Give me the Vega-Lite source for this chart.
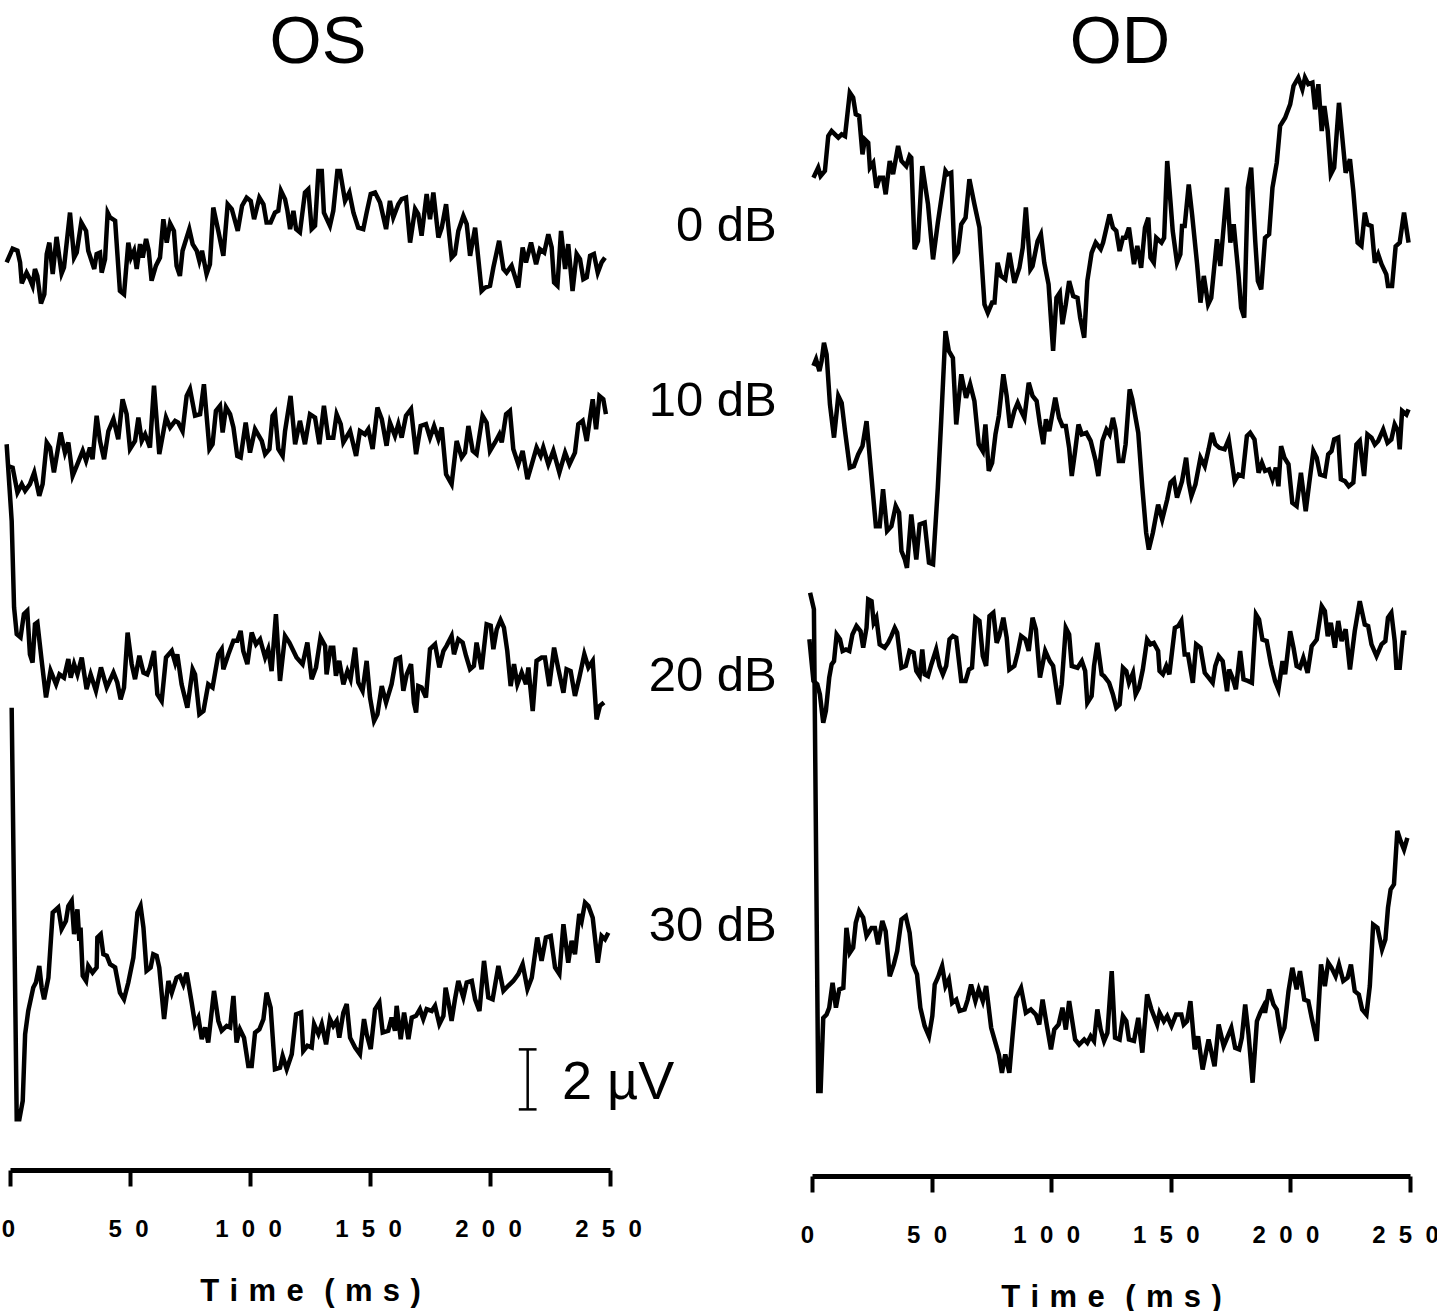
{
"$schema":"https://vega.github.io/schema/vega-lite/v6.json",
"background":"white",
"padding":{"left":-3,"top":9,"right":0,"bottom":0},
"bounds":"flush",
"spacing":202,
"config":{
 "view":{"stroke":null},
 "font":"Liberation Sans",
 "axis":{"grid":false,"domainColor":"black","domainWidth":5,"tickColor":"black","tickWidth":4,"tickSize":16,"labelFont":"Liberation Sans","labelFontWeight":"bold","labelFontSize":24,"labelColor":"black","labelPadding":31,"labelFlush":false,"labelOverlap":false,"titleFont":"Liberation Sans","titleFontWeight":"bold","titleFontSize":31,"titleColor":"black","titlePadding":35},
 "title":{"font":"Liberation Sans","fontSize":67,"fontWeight":"normal","color":"black","anchor":"middle","offset":-15}
},
"datasets":{
"os":[
{"dB":0,"ms":-1.4,"uV":30.25},{"dB":0,"ms":1.1,"uV":30.71},{"dB":0,"ms":3.1,"uV":30.64},{"dB":0,"ms":4.2,"uV":30.25},{"dB":0,"ms":4.9,"uV":29.55},{"dB":0,"ms":6.9,"uV":29.91},{"dB":0,"ms":8.3,"uV":29.69},{"dB":0,"ms":9.4,"uV":29.47},{"dB":0,"ms":10.4,"uV":30.03},{"dB":0,"ms":11.4,"uV":29.8},{"dB":0,"ms":12.9,"uV":28.88},{"dB":0,"ms":14.3,"uV":29.19},{"dB":0,"ms":15.3,"uV":30.53},{"dB":0,"ms":16.4,"uV":30.91},{"dB":0,"ms":17.8,"uV":29.86},{"dB":0,"ms":19.4,"uV":31.1},{"dB":0,"ms":21.5,"uV":29.88},{"dB":0,"ms":22.5,"uV":30.08},{"dB":0,"ms":25.0,"uV":31.91},{"dB":0,"ms":26.7,"uV":30.41},{"dB":0,"ms":27.8,"uV":30.58},{"dB":0,"ms":29.7,"uV":31.58},{"dB":0,"ms":31.7,"uV":31.3},{"dB":0,"ms":32.6,"uV":30.64},{"dB":0,"ms":35.1,"uV":30.03},{"dB":0,"ms":36.1,"uV":30.53},{"dB":0,"ms":37.5,"uV":30.58},{"dB":0,"ms":38.2,"uV":29.91},{"dB":0,"ms":39.6,"uV":30.36},{"dB":0,"ms":40.7,"uV":31.91},{"dB":0,"ms":41.7,"uV":31.75},{"dB":0,"ms":43.8,"uV":31.64},{"dB":0,"ms":45.8,"uV":29.3},{"dB":0,"ms":47.5,"uV":29.19},{"dB":0,"ms":49.3,"uV":30.91},{"dB":0,"ms":50.4,"uV":30.41},{"dB":0,"ms":51.7,"uV":30.64},{"dB":0,"ms":52.8,"uV":30.03},{"dB":0,"ms":54.2,"uV":30.86},{"dB":0,"ms":55.3,"uV":30.41},{"dB":0,"ms":56.7,"uV":31.03},{"dB":0,"ms":57.8,"uV":30.64},{"dB":0,"ms":59.0,"uV":29.64},{"dB":0,"ms":60.8,"uV":30.14},{"dB":0,"ms":62.5,"uV":30.41},{"dB":0,"ms":63.9,"uV":31.69},{"dB":0,"ms":65.3,"uV":30.91},{"dB":0,"ms":66.7,"uV":31.55},{"dB":0,"ms":68.3,"uV":31.3},{"dB":0,"ms":69.4,"uV":30.14},{"dB":0,"ms":70.8,"uV":29.8},{"dB":0,"ms":71.9,"uV":30.64},{"dB":0,"ms":74.7,"uV":31.36},{"dB":0,"ms":76.1,"uV":30.86},{"dB":0,"ms":77.8,"uV":30.64},{"dB":0,"ms":78.9,"uV":30.3},{"dB":0,"ms":80.0,"uV":30.64},{"dB":0,"ms":81.9,"uV":29.86},{"dB":0,"ms":83.3,"uV":30.19},{"dB":0,"ms":84.7,"uV":32.08},{"dB":0,"ms":86.8,"uV":31.3},{"dB":0,"ms":88.9,"uV":30.47},{"dB":0,"ms":90.7,"uV":32.19},{"dB":0,"ms":92.4,"uV":32.03},{"dB":0,"ms":94.9,"uV":31.3},{"dB":0,"ms":96.7,"uV":32.14},{"dB":0,"ms":98.6,"uV":32.41},{"dB":0,"ms":100.3,"uV":32.3},{"dB":0,"ms":101.7,"uV":31.69},{"dB":0,"ms":103.9,"uV":32.41},{"dB":0,"ms":105.6,"uV":32.19},{"dB":0,"ms":106.9,"uV":31.58},{"dB":0,"ms":108.6,"uV":31.58},{"dB":0,"ms":110.4,"uV":31.91},{"dB":0,"ms":111.8,"uV":31.97},{"dB":0,"ms":112.9,"uV":32.64},{"dB":0,"ms":114.6,"uV":32.36},{"dB":0,"ms":115.6,"uV":31.97},{"dB":0,"ms":116.7,"uV":31.36},{"dB":0,"ms":118.1,"uV":31.97},{"dB":0,"ms":119.2,"uV":31.36},{"dB":0,"ms":120.8,"uV":31.25},{"dB":0,"ms":122.9,"uV":32.58},{"dB":0,"ms":124.3,"uV":32.69},{"dB":0,"ms":125.7,"uV":31.36},{"dB":0,"ms":127.1,"uV":31.47},{"dB":0,"ms":128.5,"uV":33.3},{"dB":0,"ms":129.9,"uV":33.3},{"dB":0,"ms":130.8,"uV":31.91},{"dB":0,"ms":133.3,"uV":31.47},{"dB":0,"ms":134.7,"uV":31.97},{"dB":0,"ms":136.4,"uV":33.3},{"dB":0,"ms":137.5,"uV":33.3},{"dB":0,"ms":139.6,"uV":32.3},{"dB":0,"ms":141.4,"uV":32.58},{"dB":0,"ms":143.1,"uV":31.91},{"dB":0,"ms":145.1,"uV":31.41},{"dB":0,"ms":147.2,"uV":31.36},{"dB":0,"ms":148.6,"uV":31.91},{"dB":0,"ms":150.3,"uV":32.53},{"dB":0,"ms":152.1,"uV":32.58},{"dB":0,"ms":154.2,"uV":32.25},{"dB":0,"ms":156.7,"uV":31.36},{"dB":0,"ms":158.3,"uV":32.3},{"dB":0,"ms":159.7,"uV":31.75},{"dB":0,"ms":161.8,"uV":32.19},{"dB":0,"ms":163.2,"uV":32.36},{"dB":0,"ms":165.0,"uV":32.41},{"dB":0,"ms":166.7,"uV":30.91},{"dB":0,"ms":168.8,"uV":32.03},{"dB":0,"ms":170.1,"uV":31.86},{"dB":0,"ms":171.5,"uV":31.14},{"dB":0,"ms":173.6,"uV":32.53},{"dB":0,"ms":175.0,"uV":31.69},{"dB":0,"ms":176.4,"uV":32.58},{"dB":0,"ms":178.5,"uV":31.08},{"dB":0,"ms":179.9,"uV":31.41},{"dB":0,"ms":181.7,"uV":32.19},{"dB":0,"ms":184.0,"uV":30.41},{"dB":0,"ms":185.4,"uV":30.53},{"dB":0,"ms":186.8,"uV":31.3},{"dB":0,"ms":188.9,"uV":31.8},{"dB":0,"ms":190.3,"uV":31.53},{"dB":0,"ms":191.7,"uV":30.47},{"dB":0,"ms":193.8,"uV":31.41},{"dB":0,"ms":196.5,"uV":29.3},{"dB":0,"ms":197.9,"uV":29.41},{"dB":0,"ms":200.0,"uV":29.47},{"dB":0,"ms":201.4,"uV":30.08},{"dB":0,"ms":203.8,"uV":30.97},{"dB":0,"ms":205.6,"uV":30.03},{"dB":0,"ms":206.9,"uV":29.91},{"dB":0,"ms":209.0,"uV":30.14},{"dB":0,"ms":211.8,"uV":29.41},{"dB":0,"ms":213.6,"uV":30.75},{"dB":0,"ms":215.0,"uV":30.25},{"dB":0,"ms":217.1,"uV":30.91},{"dB":0,"ms":219.2,"uV":30.19},{"dB":0,"ms":220.8,"uV":30.69},{"dB":0,"ms":222.6,"uV":30.58},{"dB":0,"ms":224.3,"uV":31.19},{"dB":0,"ms":225.7,"uV":30.75},{"dB":0,"ms":226.7,"uV":29.58},{"dB":0,"ms":228.1,"uV":29.47},{"dB":0,"ms":229.6,"uV":31.3},{"dB":0,"ms":231.3,"uV":30.03},{"dB":0,"ms":232.6,"uV":30.86},{"dB":0,"ms":234.4,"uV":29.3},{"dB":0,"ms":236.1,"uV":30.53},{"dB":0,"ms":237.5,"uV":30.36},{"dB":0,"ms":238.9,"uV":29.69},{"dB":0,"ms":240.3,"uV":29.75},{"dB":0,"ms":241.7,"uV":30.47},{"dB":0,"ms":243.3,"uV":30.53},{"dB":0,"ms":244.9,"uV":29.91},{"dB":0,"ms":246.5,"uV":30.25},{"dB":0,"ms":247.9,"uV":30.41},
{"dB":10,"ms":-1.1,"uV":23.47},{"dB":10,"ms":1.1,"uV":23.41},{"dB":10,"ms":3.1,"uV":22.58},{"dB":10,"ms":4.9,"uV":22.86},{"dB":10,"ms":6.3,"uV":22.64},{"dB":10,"ms":8.3,"uV":22.86},{"dB":10,"ms":10.1,"uV":23.25},{"dB":10,"ms":12.2,"uV":22.47},{"dB":10,"ms":13.6,"uV":22.86},{"dB":10,"ms":15.3,"uV":24.25},{"dB":10,"ms":16.7,"uV":24.08},{"dB":10,"ms":18.3,"uV":23.25},{"dB":10,"ms":21.1,"uV":24.58},{"dB":10,"ms":22.9,"uV":23.91},{"dB":10,"ms":24.3,"uV":24.25},{"dB":10,"ms":26.1,"uV":23.14},{"dB":10,"ms":27.8,"uV":23.47},{"dB":10,"ms":30.3,"uV":23.97},{"dB":10,"ms":31.7,"uV":23.64},{"dB":10,"ms":33.3,"uV":24.08},{"dB":10,"ms":34.4,"uV":23.69},{"dB":10,"ms":36.1,"uV":25.14},{"dB":10,"ms":37.5,"uV":24.3},{"dB":10,"ms":39.2,"uV":23.69},{"dB":10,"ms":41.0,"uV":24.63},{"dB":10,"ms":43.1,"uV":25.03},{"dB":10,"ms":45.1,"uV":24.36},{"dB":10,"ms":46.9,"uV":25.69},{"dB":10,"ms":48.6,"uV":25.19},{"dB":10,"ms":50.0,"uV":24.03},{"dB":10,"ms":52.1,"uV":24.3},{"dB":10,"ms":53.5,"uV":25.08},{"dB":10,"ms":54.9,"uV":24.3},{"dB":10,"ms":56.3,"uV":24.52},{"dB":10,"ms":58.3,"uV":24.08},{"dB":10,"ms":60.0,"uV":26.14},{"dB":10,"ms":62.2,"uV":23.86},{"dB":10,"ms":65.0,"uV":25.08},{"dB":10,"ms":66.7,"uV":24.75},{"dB":10,"ms":68.8,"uV":24.97},{"dB":10,"ms":70.1,"uV":24.91},{"dB":10,"ms":71.9,"uV":24.63},{"dB":10,"ms":73.6,"uV":25.8},{"dB":10,"ms":75.0,"uV":26.03},{"dB":10,"ms":77.1,"uV":25.14},{"dB":10,"ms":79.2,"uV":25.19},{"dB":10,"ms":80.8,"uV":26.19},{"dB":10,"ms":83.1,"uV":24.03},{"dB":10,"ms":84.4,"uV":24.19},{"dB":10,"ms":85.8,"uV":25.3},{"dB":10,"ms":87.5,"uV":25.47},{"dB":10,"ms":88.6,"uV":24.58},{"dB":10,"ms":90.0,"uV":25.42},{"dB":10,"ms":91.7,"uV":25.19},{"dB":10,"ms":93.1,"uV":24.75},{"dB":10,"ms":94.7,"uV":23.8},{"dB":10,"ms":96.1,"uV":23.75},{"dB":10,"ms":98.2,"uV":24.91},{"dB":10,"ms":100.0,"uV":23.91},{"dB":10,"ms":102.1,"uV":24.69},{"dB":10,"ms":104.9,"uV":24.3},{"dB":10,"ms":106.3,"uV":23.86},{"dB":10,"ms":108.1,"uV":24.03},{"dB":10,"ms":109.4,"uV":25.14},{"dB":10,"ms":110.4,"uV":25.25},{"dB":10,"ms":111.8,"uV":24.03},{"dB":10,"ms":113.6,"uV":23.8},{"dB":10,"ms":114.6,"uV":24.63},{"dB":10,"ms":116.9,"uV":25.8},{"dB":10,"ms":118.8,"uV":24.19},{"dB":10,"ms":120.8,"uV":24.97},{"dB":10,"ms":122.9,"uV":24.19},{"dB":10,"ms":125.0,"uV":25.19},{"dB":10,"ms":127.1,"uV":25.08},{"dB":10,"ms":128.9,"uV":24.19},{"dB":10,"ms":130.8,"uV":25.47},{"dB":10,"ms":132.6,"uV":24.41},{"dB":10,"ms":134.7,"uV":24.41},{"dB":10,"ms":136.1,"uV":25.19},{"dB":10,"ms":137.8,"uV":24.86},{"dB":10,"ms":138.9,"uV":24.25},{"dB":10,"ms":141.7,"uV":24.63},{"dB":10,"ms":144.2,"uV":23.8},{"dB":10,"ms":145.8,"uV":24.63},{"dB":10,"ms":147.9,"uV":24.52},{"dB":10,"ms":149.3,"uV":24.69},{"dB":10,"ms":151.1,"uV":24.03},{"dB":10,"ms":153.1,"uV":25.41},{"dB":10,"ms":154.9,"uV":25.03},{"dB":10,"ms":156.9,"uV":24.14},{"dB":10,"ms":158.3,"uV":24.91},{"dB":10,"ms":160.4,"uV":24.47},{"dB":10,"ms":161.8,"uV":24.86},{"dB":10,"ms":163.2,"uV":24.41},{"dB":10,"ms":165.0,"uV":25.14},{"dB":10,"ms":167.1,"uV":25.36},{"dB":10,"ms":169.2,"uV":23.86},{"dB":10,"ms":171.1,"uV":24.8},{"dB":10,"ms":173.3,"uV":24.86},{"dB":10,"ms":175.0,"uV":24.41},{"dB":10,"ms":176.7,"uV":24.8},{"dB":10,"ms":178.5,"uV":24.36},{"dB":10,"ms":179.9,"uV":24.75},{"dB":10,"ms":181.7,"uV":23.19},{"dB":10,"ms":184.0,"uV":22.86},{"dB":10,"ms":186.1,"uV":24.3},{"dB":10,"ms":188.2,"uV":23.75},{"dB":10,"ms":189.6,"uV":23.91},{"dB":10,"ms":191.0,"uV":24.8},{"dB":10,"ms":192.8,"uV":23.97},{"dB":10,"ms":194.4,"uV":23.86},{"dB":10,"ms":196.9,"uV":25.14},{"dB":10,"ms":198.6,"uV":24.91},{"dB":10,"ms":200.0,"uV":23.97},{"dB":10,"ms":202.1,"uV":24.25},{"dB":10,"ms":203.9,"uV":24.52},{"dB":10,"ms":204.9,"uV":24.25},{"dB":10,"ms":206.7,"uV":25.19},{"dB":10,"ms":208.3,"uV":25.3},{"dB":10,"ms":209.7,"uV":24.03},{"dB":10,"ms":211.8,"uV":23.52},{"dB":10,"ms":213.6,"uV":23.97},{"dB":10,"ms":215.6,"uV":23.03},{"dB":10,"ms":217.4,"uV":23.52},{"dB":10,"ms":219.4,"uV":24.08},{"dB":10,"ms":221.1,"uV":23.8},{"dB":10,"ms":222.2,"uV":24.08},{"dB":10,"ms":224.3,"uV":23.52},{"dB":10,"ms":226.4,"uV":23.97},{"dB":10,"ms":228.9,"uV":23.25},{"dB":10,"ms":231.3,"uV":23.91},{"dB":10,"ms":233.1,"uV":23.52},{"dB":10,"ms":235.4,"uV":23.91},{"dB":10,"ms":236.8,"uV":24.86},{"dB":10,"ms":238.6,"uV":24.97},{"dB":10,"ms":240.3,"uV":24.3},{"dB":10,"ms":241.7,"uV":25.08},{"dB":10,"ms":242.8,"uV":25.69},{"dB":10,"ms":244.2,"uV":24.69},{"dB":10,"ms":245.6,"uV":25.8},{"dB":10,"ms":247.2,"uV":25.69},{"dB":10,"ms":248.3,"uV":25.19},
{"dB":20,"ms":-1.4,"uV":24.19},{"dB":20,"ms":0.7,"uV":21.64},{"dB":20,"ms":1.7,"uV":18.75},{"dB":20,"ms":2.8,"uV":17.86},{"dB":20,"ms":4.4,"uV":17.75},{"dB":20,"ms":5.8,"uV":18.53},{"dB":20,"ms":7.2,"uV":18.64},{"dB":20,"ms":8.3,"uV":17.19},{"dB":20,"ms":9.4,"uV":16.91},{"dB":20,"ms":10.4,"uV":18.19},{"dB":20,"ms":11.4,"uV":18.25},{"dB":20,"ms":13.2,"uV":16.97},{"dB":20,"ms":15.0,"uV":15.75},{"dB":20,"ms":16.9,"uV":16.64},{"dB":20,"ms":19.2,"uV":16.19},{"dB":20,"ms":20.6,"uV":16.52},{"dB":20,"ms":22.5,"uV":16.41},{"dB":20,"ms":24.3,"uV":17.03},{"dB":20,"ms":25.3,"uV":16.41},{"dB":20,"ms":26.7,"uV":16.86},{"dB":20,"ms":28.1,"uV":16.52},{"dB":20,"ms":29.9,"uV":17.08},{"dB":20,"ms":31.9,"uV":16.03},{"dB":20,"ms":33.6,"uV":16.52},{"dB":20,"ms":35.8,"uV":15.97},{"dB":20,"ms":37.9,"uV":16.75},{"dB":20,"ms":40.3,"uV":16.08},{"dB":20,"ms":43.1,"uV":16.58},{"dB":20,"ms":44.7,"uV":16.25},{"dB":20,"ms":46.1,"uV":15.69},{"dB":20,"ms":47.5,"uV":16.08},{"dB":20,"ms":49.0,"uV":17.91},{"dB":20,"ms":50.7,"uV":16.86},{"dB":20,"ms":52.1,"uV":16.36},{"dB":20,"ms":53.9,"uV":17.14},{"dB":20,"ms":55.6,"uV":16.58},{"dB":20,"ms":57.2,"uV":16.52},{"dB":20,"ms":58.3,"uV":16.75},{"dB":20,"ms":60.0,"uV":17.3},{"dB":20,"ms":61.4,"uV":15.86},{"dB":20,"ms":63.2,"uV":15.63},{"dB":20,"ms":65.0,"uV":17.08},{"dB":20,"ms":67.4,"uV":17.3},{"dB":20,"ms":68.8,"uV":16.91},{"dB":20,"ms":69.7,"uV":17.19},{"dB":20,"ms":71.5,"uV":16.19},{"dB":20,"ms":73.9,"uV":15.41},{"dB":20,"ms":76.1,"uV":16.69},{"dB":20,"ms":77.1,"uV":16.52},{"dB":20,"ms":78.9,"uV":15.19},{"dB":20,"ms":80.6,"uV":15.3},{"dB":20,"ms":82.6,"uV":16.19},{"dB":20,"ms":84.4,"uV":16.08},{"dB":20,"ms":86.8,"uV":17.19},{"dB":20,"ms":88.2,"uV":17.36},{"dB":20,"ms":88.9,"uV":16.69},{"dB":20,"ms":91.0,"uV":17.19},{"dB":20,"ms":93.1,"uV":17.64},{"dB":20,"ms":94.7,"uV":17.64},{"dB":20,"ms":96.1,"uV":17.97},{"dB":20,"ms":97.2,"uV":17.3},{"dB":20,"ms":98.9,"uV":16.86},{"dB":20,"ms":100.7,"uV":17.91},{"dB":20,"ms":102.5,"uV":17.52},{"dB":20,"ms":104.2,"uV":17.69},{"dB":20,"ms":106.3,"uV":17.08},{"dB":20,"ms":107.6,"uV":17.36},{"dB":20,"ms":109.0,"uV":16.63},{"dB":20,"ms":110.8,"uV":18.53},{"dB":20,"ms":112.5,"uV":16.3},{"dB":20,"ms":114.6,"uV":17.8},{"dB":20,"ms":116.4,"uV":17.58},{"dB":20,"ms":118.1,"uV":17.3},{"dB":20,"ms":119.4,"uV":17.08},{"dB":20,"ms":121.9,"uV":16.86},{"dB":20,"ms":123.9,"uV":17.58},{"dB":20,"ms":125.7,"uV":16.36},{"dB":20,"ms":127.5,"uV":16.75},{"dB":20,"ms":129.4,"uV":17.75},{"dB":20,"ms":131.3,"uV":17.47},{"dB":20,"ms":131.9,"uV":16.52},{"dB":20,"ms":133.6,"uV":17.41},{"dB":20,"ms":134.7,"uV":17.41},{"dB":20,"ms":135.8,"uV":16.47},{"dB":20,"ms":137.2,"uV":16.97},{"dB":20,"ms":138.9,"uV":16.19},{"dB":20,"ms":140.6,"uV":16.63},{"dB":20,"ms":141.9,"uV":16.36},{"dB":20,"ms":143.8,"uV":17.41},{"dB":20,"ms":145.1,"uV":16.25},{"dB":20,"ms":146.9,"uV":15.97},{"dB":20,"ms":148.6,"uV":16.97},{"dB":20,"ms":150.0,"uV":15.75},{"dB":20,"ms":151.7,"uV":14.97},{"dB":20,"ms":153.1,"uV":15.19},{"dB":20,"ms":154.9,"uV":16.13},{"dB":20,"ms":156.7,"uV":15.58},{"dB":20,"ms":159.0,"uV":16.19},{"dB":20,"ms":160.8,"uV":17.02},{"dB":20,"ms":162.5,"uV":17.08},{"dB":20,"ms":163.9,"uV":15.97},{"dB":20,"ms":165.3,"uV":16.52},{"dB":20,"ms":167.1,"uV":16.86},{"dB":20,"ms":168.3,"uV":15.58},{"dB":20,"ms":169.2,"uV":15.25},{"dB":20,"ms":170.1,"uV":16.13},{"dB":20,"ms":171.5,"uV":16.08},{"dB":20,"ms":173.3,"uV":15.75},{"dB":20,"ms":175.0,"uV":17.36},{"dB":20,"ms":177.1,"uV":17.52},{"dB":20,"ms":178.9,"uV":16.75},{"dB":20,"ms":180.6,"uV":17.3},{"dB":20,"ms":181.9,"uV":17.47},{"dB":20,"ms":184.0,"uV":17.8},{"dB":20,"ms":185.0,"uV":17.19},{"dB":20,"ms":186.8,"uV":17.69},{"dB":20,"ms":188.6,"uV":17.58},{"dB":20,"ms":190.0,"uV":17.14},{"dB":20,"ms":191.7,"uV":16.69},{"dB":20,"ms":193.3,"uV":16.8},{"dB":20,"ms":194.4,"uV":17.58},{"dB":20,"ms":196.5,"uV":16.69},{"dB":20,"ms":198.6,"uV":18.19},{"dB":20,"ms":200.3,"uV":18.14},{"dB":20,"ms":201.4,"uV":17.36},{"dB":20,"ms":202.8,"uV":18.02},{"dB":20,"ms":204.4,"uV":18.33},{"dB":20,"ms":205.8,"uV":18.08},{"dB":20,"ms":207.2,"uV":17.3},{"dB":20,"ms":208.6,"uV":16.13},{"dB":20,"ms":210.0,"uV":16.86},{"dB":20,"ms":211.4,"uV":16.19},{"dB":20,"ms":213.2,"uV":16.58},{"dB":20,"ms":215.0,"uV":16.19},{"dB":20,"ms":216.0,"uV":16.75},{"dB":20,"ms":217.8,"uV":15.3},{"dB":20,"ms":219.4,"uV":16.97},{"dB":20,"ms":221.5,"uV":17.08},{"dB":20,"ms":222.9,"uV":17.08},{"dB":20,"ms":224.7,"uV":16.13},{"dB":20,"ms":226.7,"uV":17.41},{"dB":20,"ms":228.5,"uV":16.69},{"dB":20,"ms":230.6,"uV":15.91},{"dB":20,"ms":231.9,"uV":16.69},{"dB":20,"ms":233.6,"uV":16.63},{"dB":20,"ms":235.4,"uV":15.8},{"dB":20,"ms":237.2,"uV":16.41},{"dB":20,"ms":239.3,"uV":17.19},{"dB":20,"ms":241.0,"uV":16.75},{"dB":20,"ms":242.8,"uV":16.97},{"dB":20,"ms":244.4,"uV":15.02},{"dB":20,"ms":245.8,"uV":15.47},{"dB":20,"ms":247.5,"uV":15.58},
{"dB":30,"ms":0.7,"uV":15.41},{"dB":30,"ms":2.8,"uV":1.69},{"dB":30,"ms":3.9,"uV":1.69},{"dB":30,"ms":5.3,"uV":2.3},{"dB":30,"ms":6.3,"uV":4.53},{"dB":30,"ms":7.6,"uV":5.3},{"dB":30,"ms":9.7,"uV":6.08},{"dB":30,"ms":10.8,"uV":6.25},{"dB":30,"ms":12.2,"uV":6.8},{"dB":30,"ms":13.2,"uV":6.08},{"dB":30,"ms":14.2,"uV":5.69},{"dB":30,"ms":16.0,"uV":6.41},{"dB":30,"ms":17.8,"uV":8.58},{"dB":30,"ms":20.1,"uV":8.75},{"dB":30,"ms":21.5,"uV":8.03},{"dB":30,"ms":23.3,"uV":8.3},{"dB":30,"ms":24.3,"uV":8.8},{"dB":30,"ms":25.7,"uV":8.97},{"dB":30,"ms":26.7,"uV":7.86},{"dB":30,"ms":28.1,"uV":8.69},{"dB":30,"ms":28.9,"uV":7.64},{"dB":30,"ms":29.4,"uV":8.08},{"dB":30,"ms":30.3,"uV":6.47},{"dB":30,"ms":31.7,"uV":6.3},{"dB":30,"ms":32.6,"uV":6.8},{"dB":30,"ms":34.4,"uV":6.58},{"dB":30,"ms":36.1,"uV":6.75},{"dB":30,"ms":36.4,"uV":7.75},{"dB":30,"ms":37.8,"uV":7.86},{"dB":30,"ms":38.9,"uV":7.19},{"dB":30,"ms":40.3,"uV":7.14},{"dB":30,"ms":41.7,"uV":6.86},{"dB":30,"ms":43.8,"uV":6.75},{"dB":30,"ms":45.8,"uV":5.91},{"dB":30,"ms":47.5,"uV":5.69},{"dB":30,"ms":49.3,"uV":6.25},{"dB":30,"ms":51.4,"uV":7.08},{"dB":30,"ms":53.1,"uV":8.58},{"dB":30,"ms":54.4,"uV":8.8},{"dB":30,"ms":55.6,"uV":8.08},{"dB":30,"ms":56.9,"uV":6.64},{"dB":30,"ms":58.6,"uV":6.75},{"dB":30,"ms":59.7,"uV":7.19},{"dB":30,"ms":61.1,"uV":7.14},{"dB":30,"ms":62.2,"uV":6.75},{"dB":30,"ms":64.2,"uV":5.03},{"dB":30,"ms":66.0,"uV":6.3},{"dB":30,"ms":67.4,"uV":5.91},{"dB":30,"ms":69.4,"uV":6.41},{"dB":30,"ms":70.8,"uV":6.47},{"dB":30,"ms":72.2,"uV":6.19},{"dB":30,"ms":73.6,"uV":6.58},{"dB":30,"ms":75.7,"uV":5.58},{"dB":30,"ms":77.1,"uV":4.86},{"dB":30,"ms":78.5,"uV":5.08},{"dB":30,"ms":79.9,"uV":4.36},{"dB":30,"ms":81.3,"uV":4.75},{"dB":30,"ms":82.6,"uV":4.25},{"dB":30,"ms":85.0,"uV":5.97},{"dB":30,"ms":86.8,"uV":4.97},{"dB":30,"ms":88.2,"uV":4.64},{"dB":30,"ms":90.3,"uV":4.8},{"dB":30,"ms":91.7,"uV":4.75},{"dB":30,"ms":93.1,"uV":5.8},{"dB":30,"ms":94.4,"uV":4.25},{"dB":30,"ms":95.8,"uV":4.69},{"dB":30,"ms":97.5,"uV":4.41},{"dB":30,"ms":99.3,"uV":3.47},{"dB":30,"ms":100.7,"uV":3.47},{"dB":30,"ms":102.1,"uV":4.58},{"dB":30,"ms":103.9,"uV":4.69},{"dB":30,"ms":105.6,"uV":5.03},{"dB":30,"ms":106.9,"uV":5.91},{"dB":30,"ms":108.6,"uV":5.41},{"dB":30,"ms":110.4,"uV":3.36},{"dB":30,"ms":112.5,"uV":3.41},{"dB":30,"ms":113.6,"uV":3.8},{"dB":30,"ms":115.3,"uV":3.36},{"dB":30,"ms":117.4,"uV":3.86},{"dB":30,"ms":119.2,"uV":5.19},{"dB":30,"ms":121.3,"uV":5.25},{"dB":30,"ms":122.2,"uV":3.97},{"dB":30,"ms":123.9,"uV":4.14},{"dB":30,"ms":125.7,"uV":4.08},{"dB":30,"ms":126.7,"uV":4.86},{"dB":30,"ms":128.5,"uV":4.53},{"dB":30,"ms":129.9,"uV":4.86},{"dB":30,"ms":131.7,"uV":4.19},{"dB":30,"ms":133.3,"uV":5.03},{"dB":30,"ms":134.7,"uV":4.8},{"dB":30,"ms":136.1,"uV":4.97},{"dB":30,"ms":137.2,"uV":4.41},{"dB":30,"ms":138.9,"uV":5.25},{"dB":30,"ms":140.3,"uV":5.53},{"dB":30,"ms":141.7,"uV":4.41},{"dB":30,"ms":143.8,"uV":4.08},{"dB":30,"ms":145.8,"uV":3.86},{"dB":30,"ms":147.5,"uV":5.03},{"dB":30,"ms":148.6,"uV":4.53},{"dB":30,"ms":150.3,"uV":4.03},{"dB":30,"ms":152.1,"uV":5.36},{"dB":30,"ms":153.9,"uV":5.58},{"dB":30,"ms":155.3,"uV":4.58},{"dB":30,"ms":157.6,"uV":4.64},{"dB":30,"ms":159.0,"uV":5.08},{"dB":30,"ms":160.4,"uV":4.64},{"dB":30,"ms":161.1,"uV":5.47},{"dB":30,"ms":162.8,"uV":4.36},{"dB":30,"ms":164.2,"uV":5.25},{"dB":30,"ms":166.0,"uV":4.36},{"dB":30,"ms":167.4,"uV":5.08},{"dB":30,"ms":169.2,"uV":5.14},{"dB":30,"ms":170.8,"uV":5.36},{"dB":30,"ms":172.2,"uV":5.03},{"dB":30,"ms":173.6,"uV":5.36},{"dB":30,"ms":175.7,"uV":5.3},{"dB":30,"ms":177.1,"uV":5.47},{"dB":30,"ms":178.9,"uV":4.86},{"dB":30,"ms":180.6,"uV":5.14},{"dB":30,"ms":181.5,"uV":6.08},{"dB":30,"ms":182.6,"uV":5.64},{"dB":30,"ms":184.0,"uV":4.97},{"dB":30,"ms":185.4,"uV":5.69},{"dB":30,"ms":186.8,"uV":6.3},{"dB":30,"ms":188.9,"uV":5.75},{"dB":30,"ms":190.3,"uV":6.25},{"dB":30,"ms":192.4,"uV":6.3},{"dB":30,"ms":193.8,"uV":5.69},{"dB":30,"ms":195.6,"uV":5.3},{"dB":30,"ms":197.5,"uV":6.97},{"dB":30,"ms":199.3,"uV":5.75},{"dB":30,"ms":201.1,"uV":5.69},{"dB":30,"ms":203.5,"uV":6.8},{"dB":30,"ms":205.6,"uV":5.97},{"dB":30,"ms":207.6,"uV":6.14},{"dB":30,"ms":209.7,"uV":6.3},{"dB":30,"ms":211.8,"uV":6.53},{"dB":30,"ms":213.6,"uV":6.86},{"dB":30,"ms":215.6,"uV":6.03},{"dB":30,"ms":217.4,"uV":6.41},{"dB":30,"ms":219.7,"uV":7.75},{"dB":30,"ms":221.5,"uV":6.97},{"dB":30,"ms":223.3,"uV":7.75},{"dB":30,"ms":225.3,"uV":7.8},{"dB":30,"ms":227.1,"uV":6.75},{"dB":30,"ms":228.9,"uV":6.53},{"dB":30,"ms":230.6,"uV":8.19},{"dB":30,"ms":232.6,"uV":6.91},{"dB":30,"ms":234.0,"uV":7.64},{"dB":30,"ms":235.4,"uV":7.19},{"dB":30,"ms":237.2,"uV":8.53},{"dB":30,"ms":238.2,"uV":8.3},{"dB":30,"ms":239.6,"uV":8.91},{"dB":30,"ms":241.0,"uV":8.8},{"dB":30,"ms":242.8,"uV":8.41},{"dB":30,"ms":244.9,"uV":6.91},{"dB":30,"ms":246.5,"uV":7.8},{"dB":30,"ms":247.9,"uV":7.69},{"dB":30,"ms":249.3,"uV":7.91}
],
"od":[
{"dB":0,"ms":0.6,"uV":33.27},{"dB":0,"ms":2.6,"uV":33.61},{"dB":0,"ms":3.6,"uV":33.33},{"dB":0,"ms":5.4,"uV":33.5},{"dB":0,"ms":6.8,"uV":34.66},{"dB":0,"ms":8.2,"uV":34.83},{"dB":0,"ms":9.6,"uV":34.72},{"dB":0,"ms":11.0,"uV":34.61},{"dB":0,"ms":12.4,"uV":34.72},{"dB":0,"ms":13.8,"uV":34.66},{"dB":0,"ms":15.8,"uV":36.11},{"dB":0,"ms":17.2,"uV":35.94},{"dB":0,"ms":18.3,"uV":35.39},{"dB":0,"ms":19.7,"uV":35.33},{"dB":0,"ms":21.1,"uV":34.05},{"dB":0,"ms":22.1,"uV":34.55},{"dB":0,"ms":23.5,"uV":34.44},{"dB":0,"ms":24.2,"uV":33.61},{"dB":0,"ms":25.6,"uV":33.77},{"dB":0,"ms":26.9,"uV":32.94},{"dB":0,"ms":28.3,"uV":33.27},{"dB":0,"ms":29.7,"uV":33.27},{"dB":0,"ms":30.8,"uV":32.72},{"dB":0,"ms":32.5,"uV":33.83},{"dB":0,"ms":33.9,"uV":33.39},{"dB":0,"ms":36.0,"uV":34.33},{"dB":0,"ms":37.4,"uV":33.83},{"dB":0,"ms":39.4,"uV":33.66},{"dB":0,"ms":40.8,"uV":34.0},{"dB":0,"ms":41.5,"uV":33.94},{"dB":0,"ms":42.9,"uV":30.89},{"dB":0,"ms":44.3,"uV":31.16},{"dB":0,"ms":46.1,"uV":33.66},{"dB":0,"ms":48.5,"uV":32.39},{"dB":0,"ms":50.6,"uV":30.55},{"dB":0,"ms":52.6,"uV":31.77},{"dB":0,"ms":55.8,"uV":33.5},{"dB":0,"ms":56.8,"uV":33.39},{"dB":0,"ms":58.2,"uV":33.44},{"dB":0,"ms":59.6,"uV":30.61},{"dB":0,"ms":61.0,"uV":30.78},{"dB":0,"ms":62.4,"uV":31.72},{"dB":0,"ms":64.2,"uV":31.94},{"dB":0,"ms":65.8,"uV":33.22},{"dB":0,"ms":67.9,"uV":32.39},{"dB":0,"ms":70.0,"uV":31.61},{"dB":0,"ms":72.1,"uV":29.05},{"dB":0,"ms":73.5,"uV":28.77},{"dB":0,"ms":75.3,"uV":29.11},{"dB":0,"ms":76.3,"uV":29.11},{"dB":0,"ms":77.6,"uV":30.44},{"dB":0,"ms":79.0,"uV":30.0},{"dB":0,"ms":80.8,"uV":29.89},{"dB":0,"ms":82.5,"uV":30.77},{"dB":0,"ms":84.6,"uV":29.77},{"dB":0,"ms":86.7,"uV":30.27},{"dB":0,"ms":88.1,"uV":30.94},{"dB":0,"ms":89.4,"uV":32.28},{"dB":0,"ms":91.3,"uV":30.22},{"dB":0,"ms":92.2,"uV":30.33},{"dB":0,"ms":94.3,"uV":31.16},{"dB":0,"ms":95.7,"uV":31.39},{"dB":0,"ms":97.1,"uV":30.44},{"dB":0,"ms":98.9,"uV":29.72},{"dB":0,"ms":100.8,"uV":27.5},{"dB":0,"ms":102.2,"uV":29.27},{"dB":0,"ms":103.6,"uV":29.44},{"dB":0,"ms":104.7,"uV":28.39},{"dB":0,"ms":106.1,"uV":29.05},{"dB":0,"ms":107.5,"uV":29.83},{"dB":0,"ms":109.2,"uV":29.33},{"dB":0,"ms":111.0,"uV":29.27},{"dB":0,"ms":112.1,"uV":28.61},{"dB":0,"ms":113.8,"uV":27.94},{"dB":0,"ms":115.1,"uV":29.83},{"dB":0,"ms":116.9,"uV":30.77},{"dB":0,"ms":118.6,"uV":31.11},{"dB":0,"ms":120.7,"uV":30.89},{"dB":0,"ms":121.7,"uV":31.11},{"dB":0,"ms":124.4,"uV":32.05},{"dB":0,"ms":125.8,"uV":31.61},{"dB":0,"ms":127.2,"uV":31.5},{"dB":0,"ms":128.6,"uV":30.83},{"dB":0,"ms":130.0,"uV":31.27},{"dB":0,"ms":131.1,"uV":31.27},{"dB":0,"ms":132.5,"uV":31.61},{"dB":0,"ms":134.6,"uV":30.39},{"dB":0,"ms":136.0,"uV":31.0},{"dB":0,"ms":137.6,"uV":30.27},{"dB":0,"ms":139.2,"uV":31.61},{"dB":0,"ms":140.6,"uV":31.94},{"dB":0,"ms":141.5,"uV":30.61},{"dB":0,"ms":142.9,"uV":30.44},{"dB":0,"ms":143.9,"uV":31.27},{"dB":0,"ms":146.1,"uV":31.11},{"dB":0,"ms":147.2,"uV":31.27},{"dB":0,"ms":148.5,"uV":33.83},{"dB":0,"ms":149.9,"uV":32.44},{"dB":0,"ms":150.8,"uV":31.5},{"dB":0,"ms":152.6,"uV":30.44},{"dB":0,"ms":154.0,"uV":30.72},{"dB":0,"ms":154.7,"uV":31.66},{"dB":0,"ms":155.8,"uV":31.66},{"dB":0,"ms":157.5,"uV":33.05},{"dB":0,"ms":158.9,"uV":32.05},{"dB":0,"ms":161.0,"uV":30.39},{"dB":0,"ms":162.4,"uV":29.11},{"dB":0,"ms":163.8,"uV":30.0},{"dB":0,"ms":165.6,"uV":29.05},{"dB":0,"ms":166.9,"uV":29.27},{"dB":0,"ms":169.3,"uV":31.22},{"dB":0,"ms":170.7,"uV":30.33},{"dB":0,"ms":171.7,"uV":31.27},{"dB":0,"ms":173.5,"uV":32.94},{"dB":0,"ms":174.9,"uV":31.11},{"dB":0,"ms":176.3,"uV":31.72},{"dB":0,"ms":178.3,"uV":30.05},{"dB":0,"ms":179.4,"uV":28.94},{"dB":0,"ms":180.7,"uV":28.61},{"dB":0,"ms":182.2,"uV":32.94},{"dB":0,"ms":183.6,"uV":33.61},{"dB":0,"ms":185.3,"uV":31.16},{"dB":0,"ms":186.4,"uV":29.83},{"dB":0,"ms":187.8,"uV":29.55},{"dB":0,"ms":189.4,"uV":31.27},{"dB":0,"ms":191.1,"uV":31.39},{"dB":0,"ms":192.5,"uV":32.94},{"dB":0,"ms":194.3,"uV":33.77},{"dB":0,"ms":195.7,"uV":35.0},{"dB":0,"ms":197.8,"uV":35.27},{"dB":0,"ms":199.9,"uV":35.72},{"dB":0,"ms":201.3,"uV":36.33},{"dB":0,"ms":203.3,"uV":36.61},{"dB":0,"ms":205.0,"uV":36.22},{"dB":0,"ms":206.1,"uV":36.61},{"dB":0,"ms":207.5,"uV":36.39},{"dB":0,"ms":209.2,"uV":36.44},{"dB":0,"ms":210.3,"uV":35.55},{"dB":0,"ms":211.7,"uV":36.39},{"dB":0,"ms":213.1,"uV":34.83},{"dB":0,"ms":214.2,"uV":35.66},{"dB":0,"ms":215.6,"uV":34.83},{"dB":0,"ms":216.9,"uV":33.39},{"dB":0,"ms":218.3,"uV":33.61},{"dB":0,"ms":220.3,"uV":35.77},{"dB":0,"ms":221.7,"uV":34.61},{"dB":0,"ms":223.1,"uV":33.44},{"dB":0,"ms":224.9,"uV":33.89},{"dB":0,"ms":226.3,"uV":32.83},{"dB":0,"ms":228.1,"uV":31.11},{"dB":0,"ms":229.7,"uV":31.0},{"dB":0,"ms":231.1,"uV":32.11},{"dB":0,"ms":232.2,"uV":31.72},{"dB":0,"ms":233.9,"uV":31.66},{"dB":0,"ms":235.3,"uV":30.44},{"dB":0,"ms":236.7,"uV":30.72},{"dB":0,"ms":238.1,"uV":30.39},{"dB":0,"ms":240.1,"uV":30.05},{"dB":0,"ms":240.8,"uV":29.66},{"dB":0,"ms":242.5,"uV":29.66},{"dB":0,"ms":244.0,"uV":30.99},{"dB":0,"ms":245.7,"uV":31.11},{"dB":0,"ms":247.5,"uV":32.11},{"dB":0,"ms":249.4,"uV":31.11},
{"dB":10,"ms":0.6,"uV":27.0},{"dB":10,"ms":1.7,"uV":27.22},{"dB":10,"ms":3.1,"uV":26.83},{"dB":10,"ms":4.0,"uV":27.16},{"dB":10,"ms":5.0,"uV":27.77},{"dB":10,"ms":6.1,"uV":27.39},{"dB":10,"ms":7.5,"uV":25.72},{"dB":10,"ms":9.2,"uV":24.61},{"dB":10,"ms":11.0,"uV":26.0},{"dB":10,"ms":12.4,"uV":25.77},{"dB":10,"ms":13.8,"uV":24.83},{"dB":10,"ms":15.8,"uV":23.61},{"dB":10,"ms":17.5,"uV":23.66},{"dB":10,"ms":19.3,"uV":24.05},{"dB":10,"ms":21.1,"uV":24.33},{"dB":10,"ms":22.8,"uV":25.16},{"dB":10,"ms":24.4,"uV":23.72},{"dB":10,"ms":26.7,"uV":21.66},{"dB":10,"ms":28.3,"uV":21.66},{"dB":10,"ms":29.7,"uV":22.89},{"dB":10,"ms":31.4,"uV":21.5},{"dB":10,"ms":33.2,"uV":21.66},{"dB":10,"ms":35.0,"uV":22.33},{"dB":10,"ms":36.4,"uV":22.11},{"dB":10,"ms":37.4,"uV":20.83},{"dB":10,"ms":38.8,"uV":20.55},{"dB":10,"ms":39.7,"uV":20.27},{"dB":10,"ms":41.5,"uV":22.05},{"dB":10,"ms":43.6,"uV":20.55},{"dB":10,"ms":45.0,"uV":21.72},{"dB":10,"ms":47.1,"uV":21.78},{"dB":10,"ms":48.9,"uV":20.44},{"dB":10,"ms":50.6,"uV":20.39},{"dB":10,"ms":52.6,"uV":22.94},{"dB":10,"ms":54.0,"uV":25.16},{"dB":10,"ms":55.8,"uV":28.16},{"dB":10,"ms":57.2,"uV":27.5},{"dB":10,"ms":58.9,"uV":27.27},{"dB":10,"ms":60.3,"uV":25.05},{"dB":10,"ms":62.4,"uV":26.72},{"dB":10,"ms":64.4,"uV":25.94},{"dB":10,"ms":66.1,"uV":26.39},{"dB":10,"ms":67.9,"uV":25.83},{"dB":10,"ms":69.7,"uV":24.39},{"dB":10,"ms":71.4,"uV":24.16},{"dB":10,"ms":72.5,"uV":25.05},{"dB":10,"ms":73.9,"uV":23.5},{"dB":10,"ms":75.3,"uV":23.77},{"dB":10,"ms":76.7,"uV":24.72},{"dB":10,"ms":78.1,"uV":25.33},{"dB":10,"ms":80.0,"uV":26.72},{"dB":10,"ms":81.4,"uV":26.0},{"dB":10,"ms":82.8,"uV":24.94},{"dB":10,"ms":84.6,"uV":25.5},{"dB":10,"ms":86.0,"uV":25.77},{"dB":10,"ms":87.4,"uV":25.5},{"dB":10,"ms":88.8,"uV":25.27},{"dB":10,"ms":90.6,"uV":26.44},{"dB":10,"ms":92.2,"uV":26.0},{"dB":10,"ms":93.9,"uV":25.83},{"dB":10,"ms":95.3,"uV":25.05},{"dB":10,"ms":96.7,"uV":24.39},{"dB":10,"ms":97.8,"uV":25.22},{"dB":10,"ms":99.2,"uV":24.83},{"dB":10,"ms":101.7,"uV":25.94},{"dB":10,"ms":103.3,"uV":25.27},{"dB":10,"ms":104.7,"uV":25.0},{"dB":10,"ms":106.1,"uV":25.0},{"dB":10,"ms":107.5,"uV":24.27},{"dB":10,"ms":108.6,"uV":23.33},{"dB":10,"ms":110.0,"uV":24.16},{"dB":10,"ms":111.4,"uV":25.05},{"dB":10,"ms":112.8,"uV":24.72},{"dB":10,"ms":114.7,"uV":24.77},{"dB":10,"ms":116.5,"uV":24.5},{"dB":10,"ms":118.6,"uV":23.83},{"dB":10,"ms":119.7,"uV":23.33},{"dB":10,"ms":121.4,"uV":24.5},{"dB":10,"ms":123.1,"uV":24.88},{"dB":10,"ms":124.4,"uV":24.72},{"dB":10,"ms":125.8,"uV":25.27},{"dB":10,"ms":126.9,"uV":24.88},{"dB":10,"ms":128.3,"uV":23.83},{"dB":10,"ms":130.0,"uV":23.83},{"dB":10,"ms":131.1,"uV":24.39},{"dB":10,"ms":132.8,"uV":26.22},{"dB":10,"ms":133.9,"uV":25.89},{"dB":10,"ms":136.4,"uV":24.77},{"dB":10,"ms":138.1,"uV":22.94},{"dB":10,"ms":139.7,"uV":21.44},{"dB":10,"ms":140.8,"uV":20.88},{"dB":10,"ms":142.5,"uV":21.44},{"dB":10,"ms":144.7,"uV":22.38},{"dB":10,"ms":146.4,"uV":21.88},{"dB":10,"ms":148.5,"uV":22.55},{"dB":10,"ms":149.9,"uV":23.11},{"dB":10,"ms":151.3,"uV":23.22},{"dB":10,"ms":152.6,"uV":22.61},{"dB":10,"ms":154.7,"uV":23.16},{"dB":10,"ms":156.4,"uV":23.94},{"dB":10,"ms":157.5,"uV":23.11},{"dB":10,"ms":158.6,"uV":22.66},{"dB":10,"ms":160.3,"uV":23.05},{"dB":10,"ms":162.4,"uV":23.94},{"dB":10,"ms":164.2,"uV":23.66},{"dB":10,"ms":165.8,"uV":24.22},{"dB":10,"ms":167.2,"uV":24.77},{"dB":10,"ms":168.6,"uV":24.39},{"dB":10,"ms":170.3,"uV":24.27},{"dB":10,"ms":172.5,"uV":24.22},{"dB":10,"ms":174.2,"uV":24.55},{"dB":10,"ms":175.3,"uV":23.94},{"dB":10,"ms":176.7,"uV":23.16},{"dB":10,"ms":178.3,"uV":23.38},{"dB":10,"ms":180.0,"uV":23.33},{"dB":10,"ms":181.8,"uV":24.66},{"dB":10,"ms":183.2,"uV":24.77},{"dB":10,"ms":185.0,"uV":24.55},{"dB":10,"ms":186.7,"uV":23.44},{"dB":10,"ms":188.1,"uV":23.77},{"dB":10,"ms":189.4,"uV":23.5},{"dB":10,"ms":191.1,"uV":23.55},{"dB":10,"ms":192.5,"uV":23.22},{"dB":10,"ms":193.9,"uV":23.61},{"dB":10,"ms":195.0,"uV":22.99},{"dB":10,"ms":196.1,"uV":24.33},{"dB":10,"ms":197.5,"uV":23.94},{"dB":10,"ms":199.2,"uV":23.72},{"dB":10,"ms":200.8,"uV":22.44},{"dB":10,"ms":202.6,"uV":22.33},{"dB":10,"ms":204.4,"uV":23.44},{"dB":10,"ms":206.4,"uV":22.16},{"dB":10,"ms":207.8,"uV":23.05},{"dB":10,"ms":209.6,"uV":24.16},{"dB":10,"ms":211.0,"uV":23.94},{"dB":10,"ms":212.4,"uV":23.38},{"dB":10,"ms":214.4,"uV":23.33},{"dB":10,"ms":215.8,"uV":24.05},{"dB":10,"ms":217.2,"uV":24.16},{"dB":10,"ms":218.3,"uV":24.55},{"dB":10,"ms":220.0,"uV":24.61},{"dB":10,"ms":221.1,"uV":23.22},{"dB":10,"ms":222.8,"uV":23.16},{"dB":10,"ms":224.4,"uV":22.99},{"dB":10,"ms":226.3,"uV":23.11},{"dB":10,"ms":227.6,"uV":24.38},{"dB":10,"ms":229.0,"uV":24.5},{"dB":10,"ms":230.8,"uV":23.33},{"dB":10,"ms":232.2,"uV":24.72},{"dB":10,"ms":233.9,"uV":24.61},{"dB":10,"ms":235.3,"uV":24.38},{"dB":10,"ms":236.7,"uV":24.5},{"dB":10,"ms":238.8,"uV":24.88},{"dB":10,"ms":240.6,"uV":24.44},{"dB":10,"ms":242.2,"uV":24.55},{"dB":10,"ms":243.6,"uV":25.05},{"dB":10,"ms":245.0,"uV":24.83},{"dB":10,"ms":245.7,"uV":24.22},{"dB":10,"ms":246.7,"uV":25.5},{"dB":10,"ms":248.5,"uV":25.38},{"dB":10,"ms":249.4,"uV":25.55},
{"dB":20,"ms":-1.1,"uV":17.89},{"dB":20,"ms":0.6,"uV":16.5},{"dB":20,"ms":2.2,"uV":16.39},{"dB":20,"ms":3.3,"uV":16.05},{"dB":20,"ms":4.7,"uV":15.11},{"dB":20,"ms":5.8,"uV":15.5},{"dB":20,"ms":7.2,"uV":16.61},{"dB":20,"ms":8.2,"uV":17.05},{"dB":20,"ms":9.2,"uV":17.16},{"dB":20,"ms":10.3,"uV":18.05},{"dB":20,"ms":11.7,"uV":17.89},{"dB":20,"ms":12.8,"uV":17.5},{"dB":20,"ms":14.2,"uV":17.55},{"dB":20,"ms":15.6,"uV":17.5},{"dB":20,"ms":16.9,"uV":18.05},{"dB":20,"ms":18.6,"uV":18.33},{"dB":20,"ms":20.3,"uV":18.16},{"dB":20,"ms":21.4,"uV":17.61},{"dB":20,"ms":22.8,"uV":18.27},{"dB":20,"ms":23.5,"uV":19.22},{"dB":20,"ms":24.9,"uV":19.16},{"dB":20,"ms":25.8,"uV":18.44},{"dB":20,"ms":26.9,"uV":18.61},{"dB":20,"ms":28.3,"uV":17.72},{"dB":20,"ms":30.4,"uV":17.61},{"dB":20,"ms":31.8,"uV":17.77},{"dB":20,"ms":33.2,"uV":18.0},{"dB":20,"ms":34.6,"uV":18.27},{"dB":20,"ms":35.6,"uV":18.11},{"dB":20,"ms":37.4,"uV":16.94},{"dB":20,"ms":39.2,"uV":17.0},{"dB":20,"ms":40.8,"uV":17.5},{"dB":20,"ms":42.5,"uV":17.44},{"dB":20,"ms":43.6,"uV":16.83},{"dB":20,"ms":45.0,"uV":16.66},{"dB":20,"ms":46.1,"uV":17.55},{"dB":20,"ms":47.1,"uV":16.72},{"dB":20,"ms":48.5,"uV":16.66},{"dB":20,"ms":49.9,"uV":17.05},{"dB":20,"ms":51.9,"uV":17.55},{"dB":20,"ms":53.3,"uV":17.0},{"dB":20,"ms":54.7,"uV":16.72},{"dB":20,"ms":56.1,"uV":17.0},{"dB":20,"ms":57.5,"uV":17.89},{"dB":20,"ms":58.9,"uV":18.0},{"dB":20,"ms":60.3,"uV":17.94},{"dB":20,"ms":62.4,"uV":16.5},{"dB":20,"ms":64.2,"uV":16.5},{"dB":20,"ms":65.6,"uV":16.88},{"dB":20,"ms":66.9,"uV":16.94},{"dB":20,"ms":68.3,"uV":18.61},{"dB":20,"ms":70.0,"uV":18.5},{"dB":20,"ms":71.4,"uV":17.33},{"dB":20,"ms":72.8,"uV":17.0},{"dB":20,"ms":74.2,"uV":18.66},{"dB":20,"ms":75.8,"uV":18.77},{"dB":20,"ms":77.2,"uV":17.77},{"dB":20,"ms":78.3,"uV":18.0},{"dB":20,"ms":80.0,"uV":18.61},{"dB":20,"ms":81.4,"uV":17.94},{"dB":20,"ms":82.5,"uV":16.88},{"dB":20,"ms":84.6,"uV":17.0},{"dB":20,"ms":86.0,"uV":17.44},{"dB":20,"ms":87.4,"uV":18.0},{"dB":20,"ms":89.2,"uV":17.89},{"dB":20,"ms":90.6,"uV":17.5},{"dB":20,"ms":92.2,"uV":18.61},{"dB":20,"ms":93.6,"uV":18.22},{"dB":20,"ms":95.3,"uV":16.61},{"dB":20,"ms":97.5,"uV":17.5},{"dB":20,"ms":99.4,"uV":17.16},{"dB":20,"ms":100.8,"uV":17.0},{"dB":20,"ms":103.1,"uV":15.72},{"dB":20,"ms":104.4,"uV":16.39},{"dB":20,"ms":106.1,"uV":18.27},{"dB":20,"ms":107.5,"uV":18.05},{"dB":20,"ms":108.6,"uV":17.0},{"dB":20,"ms":111.0,"uV":16.94},{"dB":20,"ms":112.8,"uV":17.16},{"dB":20,"ms":114.2,"uV":16.83},{"dB":20,"ms":115.1,"uV":15.77},{"dB":20,"ms":116.9,"uV":16.0},{"dB":20,"ms":117.9,"uV":17.0},{"dB":20,"ms":119.3,"uV":17.77},{"dB":20,"ms":121.1,"uV":16.72},{"dB":20,"ms":122.1,"uV":16.66},{"dB":20,"ms":124.2,"uV":16.44},{"dB":20,"ms":125.8,"uV":16.05},{"dB":20,"ms":127.2,"uV":15.61},{"dB":20,"ms":128.6,"uV":15.72},{"dB":20,"ms":130.0,"uV":16.94},{"dB":20,"ms":131.4,"uV":16.83},{"dB":20,"ms":132.5,"uV":16.44},{"dB":20,"ms":134.2,"uV":16.77},{"dB":20,"ms":135.3,"uV":16.05},{"dB":20,"ms":136.7,"uV":16.27},{"dB":20,"ms":138.3,"uV":16.88},{"dB":20,"ms":140.1,"uV":17.88},{"dB":20,"ms":141.5,"uV":17.72},{"dB":20,"ms":142.9,"uV":17.77},{"dB":20,"ms":144.7,"uV":17.5},{"dB":20,"ms":145.3,"uV":16.83},{"dB":20,"ms":146.7,"uV":16.72},{"dB":20,"ms":148.1,"uV":17.0},{"dB":20,"ms":149.4,"uV":16.72},{"dB":20,"ms":151.7,"uV":18.27},{"dB":20,"ms":153.1,"uV":18.33},{"dB":20,"ms":154.4,"uV":18.5},{"dB":20,"ms":155.8,"uV":17.38},{"dB":20,"ms":157.2,"uV":17.38},{"dB":20,"ms":159.2,"uV":16.44},{"dB":20,"ms":160.6,"uV":17.72},{"dB":20,"ms":162.4,"uV":17.61},{"dB":20,"ms":164.2,"uV":16.77},{"dB":20,"ms":165.8,"uV":16.61},{"dB":20,"ms":167.5,"uV":16.44},{"dB":20,"ms":168.6,"uV":17.0},{"dB":20,"ms":170.0,"uV":17.33},{"dB":20,"ms":171.7,"uV":17.16},{"dB":20,"ms":173.5,"uV":16.16},{"dB":20,"ms":174.4,"uV":16.88},{"dB":20,"ms":175.8,"uV":16.61},{"dB":20,"ms":177.2,"uV":16.22},{"dB":20,"ms":179.0,"uV":17.5},{"dB":20,"ms":180.4,"uV":16.55},{"dB":20,"ms":182.2,"uV":16.5},{"dB":20,"ms":183.9,"uV":16.44},{"dB":20,"ms":185.6,"uV":18.72},{"dB":20,"ms":186.9,"uV":18.55},{"dB":20,"ms":188.3,"uV":17.88},{"dB":20,"ms":190.1,"uV":17.83},{"dB":20,"ms":191.9,"uV":17.05},{"dB":20,"ms":193.6,"uV":16.5},{"dB":20,"ms":195.0,"uV":16.22},{"dB":20,"ms":196.7,"uV":17.16},{"dB":20,"ms":197.8,"uV":16.72},{"dB":20,"ms":199.9,"uV":18.16},{"dB":20,"ms":201.3,"uV":17.61},{"dB":20,"ms":202.6,"uV":17.0},{"dB":20,"ms":204.0,"uV":16.94},{"dB":20,"ms":205.4,"uV":17.27},{"dB":20,"ms":207.2,"uV":16.77},{"dB":20,"ms":208.9,"uV":17.66},{"dB":20,"ms":211.0,"uV":17.88},{"dB":20,"ms":213.1,"uV":18.99},{"dB":20,"ms":214.4,"uV":18.83},{"dB":20,"ms":215.6,"uV":17.99},{"dB":20,"ms":216.9,"uV":18.44},{"dB":20,"ms":218.6,"uV":17.61},{"dB":20,"ms":220.0,"uV":18.5},{"dB":20,"ms":221.4,"uV":17.83},{"dB":20,"ms":223.1,"uV":18.22},{"dB":20,"ms":224.9,"uV":16.88},{"dB":20,"ms":226.9,"uV":18.16},{"dB":20,"ms":229.0,"uV":19.16},{"dB":20,"ms":231.1,"uV":18.38},{"dB":20,"ms":232.5,"uV":18.33},{"dB":20,"ms":233.9,"uV":17.72},{"dB":20,"ms":236.0,"uV":17.33},{"dB":20,"ms":238.1,"uV":17.72},{"dB":20,"ms":239.7,"uV":17.83},{"dB":20,"ms":240.8,"uV":18.61},{"dB":20,"ms":242.2,"uV":18.77},{"dB":20,"ms":243.6,"uV":17.83},{"dB":20,"ms":244.3,"uV":16.94},{"dB":20,"ms":245.7,"uV":16.94},{"dB":20,"ms":247.1,"uV":18.11},{"dB":20,"ms":248.5,"uV":18.11},
{"dB":30,"ms":-0.8,"uV":19.44},{"dB":30,"ms":0.8,"uV":18.89},{"dB":30,"ms":2.6,"uV":2.83},{"dB":30,"ms":3.6,"uV":2.83},{"dB":30,"ms":4.7,"uV":5.27},{"dB":30,"ms":6.1,"uV":5.38},{"dB":30,"ms":7.2,"uV":5.61},{"dB":30,"ms":8.6,"uV":6.44},{"dB":30,"ms":10.0,"uV":5.61},{"dB":30,"ms":11.4,"uV":6.22},{"dB":30,"ms":13.1,"uV":6.27},{"dB":30,"ms":14.4,"uV":8.27},{"dB":30,"ms":15.8,"uV":7.44},{"dB":30,"ms":17.2,"uV":7.61},{"dB":30,"ms":18.3,"uV":8.44},{"dB":30,"ms":19.7,"uV":8.83},{"dB":30,"ms":21.4,"uV":8.61},{"dB":30,"ms":22.8,"uV":8.0},{"dB":30,"ms":24.9,"uV":8.27},{"dB":30,"ms":26.3,"uV":8.27},{"dB":30,"ms":27.6,"uV":7.72},{"dB":30,"ms":29.4,"uV":8.5},{"dB":30,"ms":30.8,"uV":8.16},{"dB":30,"ms":32.5,"uV":6.66},{"dB":30,"ms":34.2,"uV":7.05},{"dB":30,"ms":35.6,"uV":7.5},{"dB":30,"ms":37.4,"uV":8.55},{"dB":30,"ms":39.2,"uV":8.66},{"dB":30,"ms":40.8,"uV":8.11},{"dB":30,"ms":42.2,"uV":7.05},{"dB":30,"ms":43.9,"uV":6.72},{"dB":30,"ms":45.3,"uV":5.61},{"dB":30,"ms":47.1,"uV":5.0},{"dB":30,"ms":48.9,"uV":4.66},{"dB":30,"ms":50.3,"uV":5.33},{"dB":30,"ms":51.3,"uV":6.38},{"dB":30,"ms":52.6,"uV":6.61},{"dB":30,"ms":54.4,"uV":7.0},{"dB":30,"ms":55.8,"uV":6.33},{"dB":30,"ms":57.2,"uV":6.55},{"dB":30,"ms":58.6,"uV":5.77},{"dB":30,"ms":60.3,"uV":5.88},{"dB":30,"ms":61.7,"uV":5.5},{"dB":30,"ms":63.8,"uV":5.55},{"dB":30,"ms":65.1,"uV":5.88},{"dB":30,"ms":66.5,"uV":6.38},{"dB":30,"ms":68.3,"uV":5.83},{"dB":30,"ms":69.7,"uV":6.22},{"dB":30,"ms":71.4,"uV":5.83},{"dB":30,"ms":72.8,"uV":6.33},{"dB":30,"ms":74.9,"uV":4.94},{"dB":30,"ms":76.7,"uV":4.44},{"dB":30,"ms":78.1,"uV":4.05},{"dB":30,"ms":79.4,"uV":3.44},{"dB":30,"ms":80.8,"uV":4.05},{"dB":30,"ms":82.5,"uV":3.44},{"dB":30,"ms":83.9,"uV":4.72},{"dB":30,"ms":85.3,"uV":5.94},{"dB":30,"ms":87.4,"uV":6.27},{"dB":30,"ms":89.4,"uV":5.44},{"dB":30,"ms":91.5,"uV":5.55},{"dB":30,"ms":93.6,"uV":5.38},{"dB":30,"ms":95.0,"uV":5.05},{"dB":30,"ms":96.4,"uV":5.88},{"dB":30,"ms":98.1,"uV":5.05},{"dB":30,"ms":99.9,"uV":4.22},{"dB":30,"ms":101.3,"uV":4.88},{"dB":30,"ms":103.1,"uV":5.05},{"dB":30,"ms":104.7,"uV":5.61},{"dB":30,"ms":106.1,"uV":4.88},{"dB":30,"ms":107.5,"uV":5.83},{"dB":30,"ms":110.0,"uV":4.55},{"dB":30,"ms":111.7,"uV":4.38},{"dB":30,"ms":113.8,"uV":4.55},{"dB":30,"ms":115.1,"uV":4.44},{"dB":30,"ms":116.5,"uV":4.66},{"dB":30,"ms":117.9,"uV":4.5},{"dB":30,"ms":119.3,"uV":5.55},{"dB":30,"ms":120.7,"uV":4.88},{"dB":30,"ms":122.1,"uV":4.5},{"dB":30,"ms":123.5,"uV":4.77},{"dB":30,"ms":125.3,"uV":6.83},{"dB":30,"ms":126.7,"uV":4.61},{"dB":30,"ms":128.6,"uV":4.55},{"dB":30,"ms":130.0,"uV":5.33},{"dB":30,"ms":131.4,"uV":5.16},{"dB":30,"ms":132.5,"uV":4.55},{"dB":30,"ms":134.6,"uV":4.5},{"dB":30,"ms":136.4,"uV":5.27},{"dB":30,"ms":138.1,"uV":4.11},{"dB":30,"ms":140.1,"uV":6.05},{"dB":30,"ms":141.9,"uV":5.55},{"dB":30,"ms":144.3,"uV":5.05},{"dB":30,"ms":145.3,"uV":5.44},{"dB":30,"ms":147.1,"uV":5.16},{"dB":30,"ms":148.5,"uV":5.33},{"dB":30,"ms":150.3,"uV":5.0},{"dB":30,"ms":152.2,"uV":5.38},{"dB":30,"ms":154.4,"uV":5.38},{"dB":30,"ms":155.4,"uV":5.05},{"dB":30,"ms":156.8,"uV":5.16},{"dB":30,"ms":158.2,"uV":5.83},{"dB":30,"ms":160.0,"uV":4.22},{"dB":30,"ms":161.4,"uV":4.66},{"dB":30,"ms":163.3,"uV":3.55},{"dB":30,"ms":165.8,"uV":4.55},{"dB":30,"ms":168.3,"uV":3.66},{"dB":30,"ms":170.0,"uV":5.05},{"dB":30,"ms":172.1,"uV":4.33},{"dB":30,"ms":175.3,"uV":4.94},{"dB":30,"ms":176.9,"uV":4.27},{"dB":30,"ms":178.6,"uV":4.22},{"dB":30,"ms":179.7,"uV":4.61},{"dB":30,"ms":181.1,"uV":5.72},{"dB":30,"ms":182.5,"uV":4.72},{"dB":30,"ms":184.2,"uV":3.11},{"dB":30,"ms":186.0,"uV":5.16},{"dB":30,"ms":187.4,"uV":5.44},{"dB":30,"ms":188.8,"uV":5.66},{"dB":30,"ms":189.4,"uV":5.44},{"dB":30,"ms":191.1,"uV":6.22},{"dB":30,"ms":192.9,"uV":5.72},{"dB":30,"ms":194.3,"uV":5.55},{"dB":30,"ms":196.1,"uV":4.66},{"dB":30,"ms":197.5,"uV":4.94},{"dB":30,"ms":199.2,"uV":6.16},{"dB":30,"ms":200.8,"uV":6.94},{"dB":30,"ms":202.6,"uV":6.22},{"dB":30,"ms":204.0,"uV":6.83},{"dB":30,"ms":205.8,"uV":5.88},{"dB":30,"ms":207.5,"uV":5.83},{"dB":30,"ms":208.9,"uV":5.27},{"dB":30,"ms":211.0,"uV":4.5},{"dB":30,"ms":212.8,"uV":7.05},{"dB":30,"ms":214.4,"uV":6.33},{"dB":30,"ms":215.8,"uV":7.11},{"dB":30,"ms":217.2,"uV":6.94},{"dB":30,"ms":218.9,"uV":6.66},{"dB":30,"ms":220.3,"uV":7.05},{"dB":30,"ms":222.1,"uV":6.5},{"dB":30,"ms":223.9,"uV":6.61},{"dB":30,"ms":225.3,"uV":7.05},{"dB":30,"ms":226.9,"uV":6.16},{"dB":30,"ms":228.6,"uV":6.05},{"dB":30,"ms":230.0,"uV":5.55},{"dB":30,"ms":231.8,"uV":5.38},{"dB":30,"ms":233.2,"uV":6.33},{"dB":30,"ms":234.6,"uV":8.38},{"dB":30,"ms":236.4,"uV":8.27},{"dB":30,"ms":238.3,"uV":7.55},{"dB":30,"ms":239.7,"uV":7.88},{"dB":30,"ms":240.8,"uV":8.94},{"dB":30,"ms":241.9,"uV":9.55},{"dB":30,"ms":243.3,"uV":9.72},{"dB":30,"ms":244.7,"uV":11.5},{"dB":30,"ms":246.1,"uV":11.16},{"dB":30,"ms":247.5,"uV":10.88},{"dB":30,"ms":248.9,"uV":11.27}
],
"levels":[{"label":"0 dB","uV":30.97},{"label":"10 dB","uV":25.13},{"label":"20 dB","uV":15.97},{"label":"30 dB","uV":7.63}]
},
"hconcat":[
{
 "width":600,"height":1108,
 "title":{"text":"OS","dx":8},
 "layer":[
  {"data":{"name":"os"},"mark":{"type":"line","color":"black","strokeWidth":4.5,"strokeJoin":"miter"},
   "encoding":{
    "x":{"field":"ms","type":"quantitative","scale":{"domain":[0,250],"nice":false,"zero":false},"axis":{"values":[0,50,100,150,200,250],"labelOffset":-2,"title":"T\u2004i\u2004m\u2004e\u2004\u2004(\u2004m\u2004s\u2004)","labelExpr":"join(split(datum.label,''),'\u2007')"}},
    "y":{"field":"uV","type":"quantitative","scale":{"domain":[0,36.93],"nice":false,"zero":false},"axis":null},
    "detail":{"field":"dB","type":"nominal"}}},
  {"data":{"name":"levels"},"mark":{"type":"text","align":"right","baseline":"alphabetic","fontSize":49,"font":"Liberation Sans","color":"black"},
   "encoding":{"x":{"datum":319.5,"type":"quantitative"},"y":{"field":"uV","type":"quantitative"},"text":{"field":"label"}}},
  {"data":{"values":[{}]},"mark":{"type":"rule","color":"black","strokeWidth":2.5},
   "encoding":{"x":{"datum":215.7,"type":"quantitative"},"y":{"datum":2.02,"type":"quantitative"},"y2":{"datum":4.02}}},
  {"data":{"values":[{}]},"mark":{"type":"rule","color":"black","strokeWidth":2.5},
   "encoding":{"x":{"datum":212.0,"type":"quantitative"},"x2":{"datum":219.4},"y":{"datum":2.02,"type":"quantitative"}}},
  {"data":{"values":[{}]},"mark":{"type":"rule","color":"black","strokeWidth":2.5},
   "encoding":{"x":{"datum":212.0,"type":"quantitative"},"x2":{"datum":219.4},"y":{"datum":4.02,"type":"quantitative"}}},
  {"data":{"values":[{}]},"mark":{"type":"text","align":"left","baseline":"alphabetic","fontSize":54,"font":"Liberation Sans","color":"black"},
   "encoding":{"x":{"datum":230.0,"type":"quantitative"},"y":{"datum":2.37,"type":"quantitative"},"text":{"value":"2 µV"}}}
 ]
},
{
 "width":598,"height":1114,
 "title":{"text":"OD","dx":9},
 "layer":[
  {"data":{"name":"od"},"mark":{"type":"line","color":"black","strokeWidth":4.5,"strokeJoin":"miter"},
   "encoding":{
    "x":{"field":"ms","type":"quantitative","scale":{"domain":[0,250],"nice":false,"zero":false},"axis":{"values":[0,50,100,150,200,250],"labelOffset":-5,"title":"T\u2004i\u2004m\u2004e\u2004\u2004(\u2004m\u2004s\u2004)","labelExpr":"join(split(datum.label,''),'\u2007')"}},
    "y":{"field":"uV","type":"quantitative","scale":{"domain":[0,37.13],"nice":false,"zero":false},"axis":null},
    "detail":{"field":"dB","type":"nominal"}}}
 ]
}
]
}
